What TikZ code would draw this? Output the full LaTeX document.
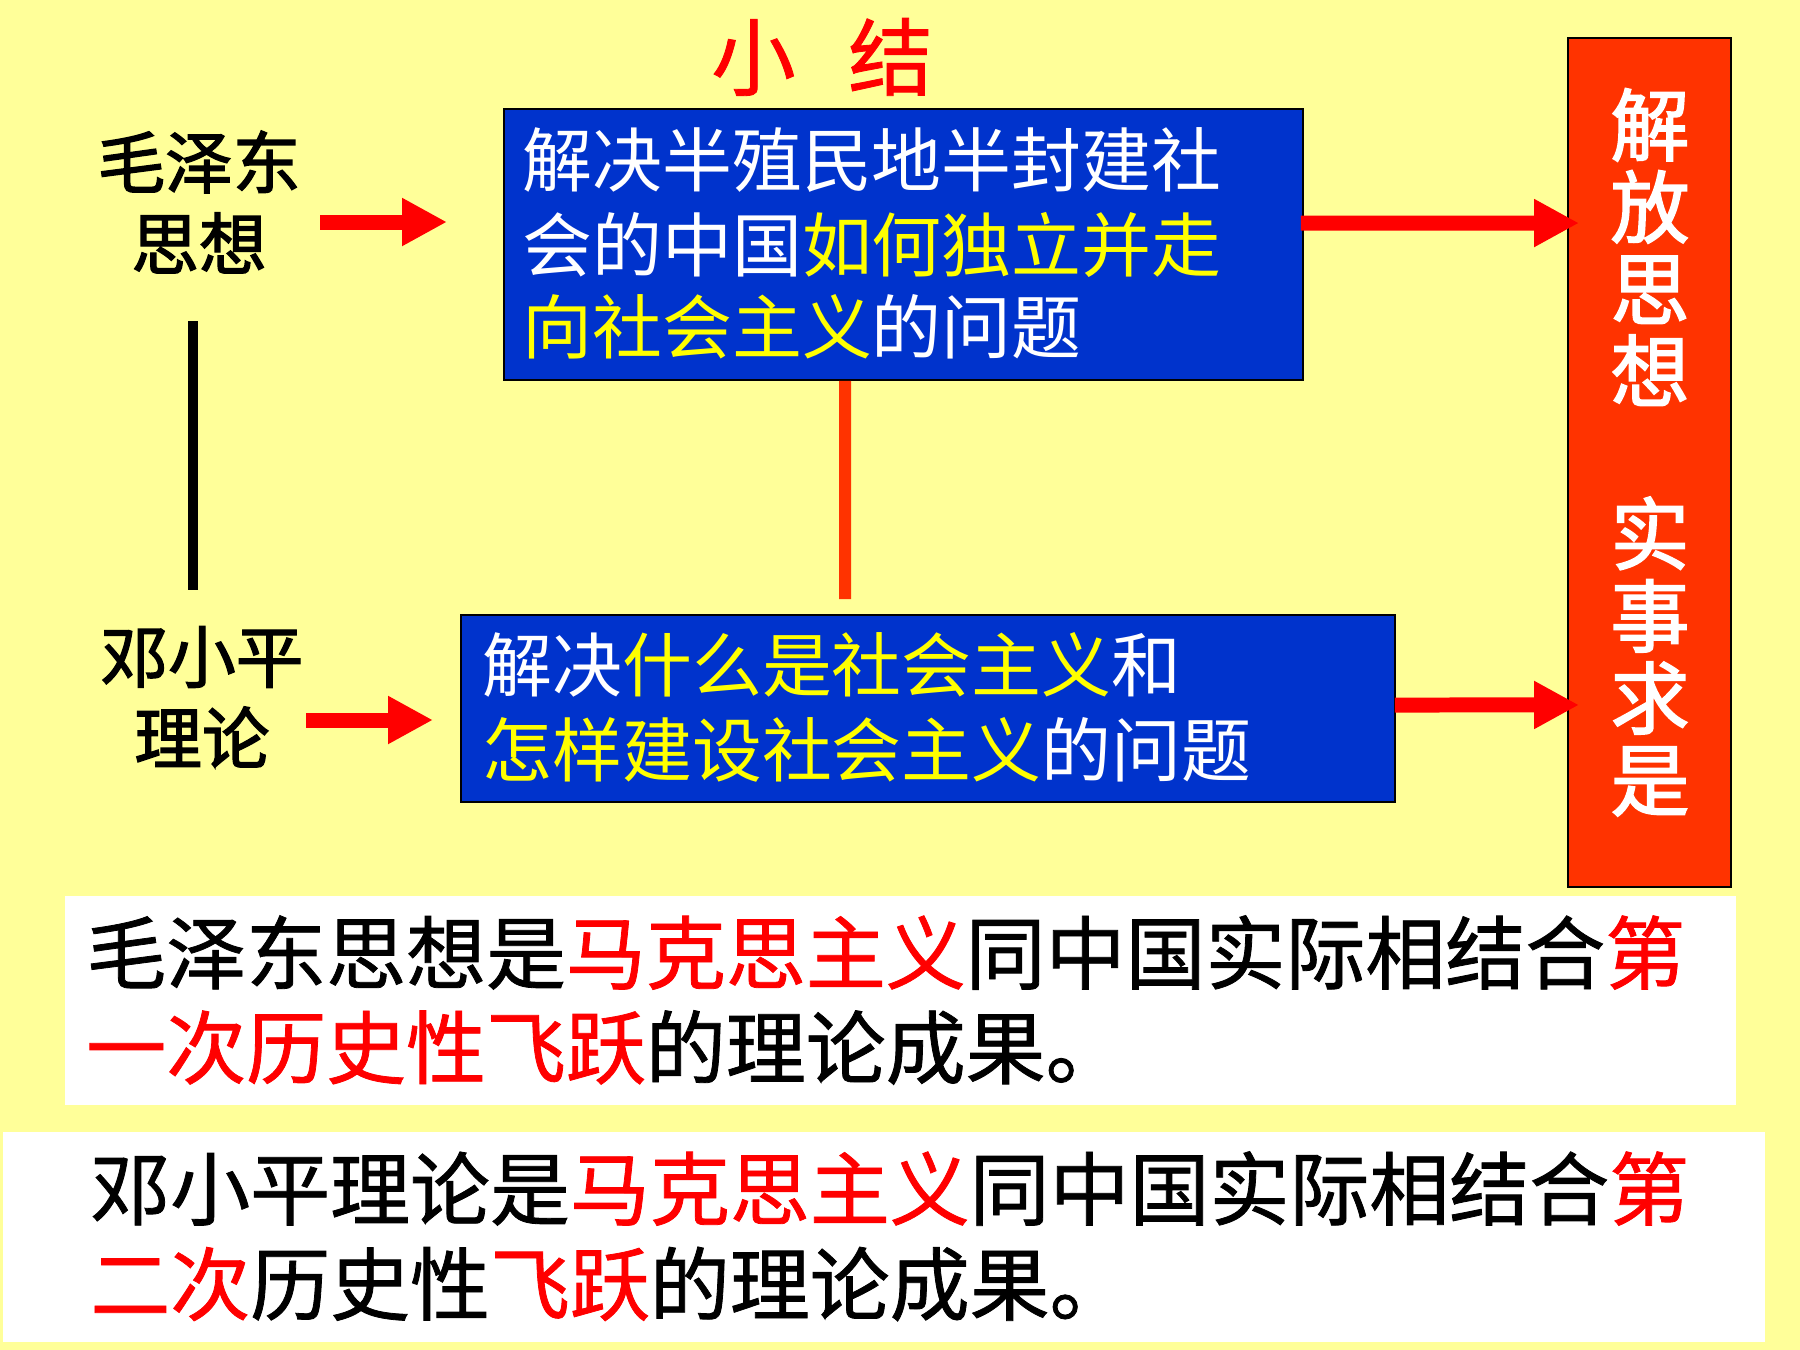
\documentclass[tikz,border=0pt]{standalone}
\usepackage{fontspec}
\usetikzlibrary{arrows.meta}
\newfontfamily\cjk{Noto Sans CJK SC}
\newfontfamily\cjkfb{Noto Sans CJK SC}[FakeBold=2]
\newfontfamily\cjkfm{Noto Sans CJK SC}[FakeBold=1]
\definecolor{bgyellow}{HTML}{FFFF99}
\definecolor{boxblue}{HTML}{0033CC}
\definecolor{boxred}{HTML}{FF3300}
\definecolor{txtyellow}{HTML}{FFFF00}
\definecolor{txtred}{HTML}{FF0000}
\begin{document}
\begin{tikzpicture}[x=0.02cm,y=-0.02cm,
  fatarrow/.style={draw=txtred, line width=0.3cm, -{Triangle[width=0.9cm,length=0.9cm]}},
  bluebox/.style={draw=black, line width=0.04cm, fill=boxblue, inner sep=0pt},
  redbox/.style={draw=black, line width=0.04cm, fill=boxred, inner sep=0pt},
  whitebox/.style={fill=white, draw=none, inner sep=0pt},
  boxtext/.style={anchor=west, inner sep=0pt, text=white, font=\cjk\fontsize{39.8}{46}\selectfont},
  bigtext/.style={anchor=west, inner sep=0pt, text=black, font=\cjkfm\fontsize{45.5}{52}\selectfont},
  sidetext/.style={align=center, inner sep=0pt, text=black, font=\cjkfb\fontsize{38.5}{46.3}\selectfont},
  vtext/.style={align=center, inner sep=0pt, text=white, font=\cjkfb\fontsize{45}{46.7}\selectfont},
  titletext/.style={inner sep=0pt, text=txtred, font=\cjkfm\fontsize{48}{52}\selectfont}
]
\fill[bgyellow] (0,0) rectangle (1800,1350);
\useasboundingbox (0,0) rectangle (1800,1350);

% title
\node[titletext] (title) at (822,57) {小\hspace{30pt}结};

% boxes
\node[bluebox, minimum width=15.98cm, minimum height=5.42cm] (box1) at (903.5,244.5) {};
\node[bluebox, minimum width=18.68cm, minimum height=3.74cm] (box2) at (928,708.5) {};
\node[redbox, minimum width=3.26cm, minimum height=16.98cm] (red) at (1649.5,462.5) {};
\node[whitebox, minimum width=33.42cm, minimum height=4.18cm] (w1) at (900.5,1000.5) {};
\node[whitebox, minimum width=35.24cm, minimum height=4.2cm] (w2) at (884,1237) {};

% box1 text
\node[boxtext] (b1a) at (522,160) {解决半殖民地半封建社};
\node[boxtext] (b1b) at (522,245) {会的中国\textcolor{txtyellow}{如何独立并走}};
\node[boxtext] (b1c) at (522,327) {\textcolor{txtyellow}{向社会主义}的问题};

% box2 text
\node[boxtext] (b2a) at (482,665) {解决\textcolor{txtyellow}{什么是社会主义}和};
\node[boxtext] (b2b) at (482,750) {\textcolor{txtyellow}{怎样建设社会主义}的问题};

% red box text
\node[vtext] (v1) at (1650,247) {解\\放\\思\\想};
\node[vtext] (v2) at (1650,656.5) {实\\事\\求\\是};

% side labels
\node[sidetext] (mao) at (199,202) {毛泽东\\思想};
\node[sidetext] (deng) at (202,697) {邓小平\\理论};

% bottom texts
\node[bigtext] (t1) at (86,952.5) {毛泽东思想是\textcolor{txtred}{马克思主义}同中国实际相结合\textcolor{txtred}{第}};
\node[bigtext] (t2) at (86,1047.5) {\textcolor{txtred}{一次历史性飞跃}的理论成果。};
\node[bigtext] (t3) at (90,1188.5) {邓小平理论是\textcolor{txtred}{马克思主义}同中国实际相结合\textcolor{txtred}{第}};
\node[bigtext] (t4) at (90,1284) {\textcolor{txtred}{二次}历史性\textcolor{txtred}{飞跃}的理论成果。};

% connectors
\coordinate (vtop) at (193,321);
\coordinate (vbot) at (193,590);
\draw[line width=0.2cm, black] (vtop) -- (vbot);

\draw[line width=0.24cm, boxred, shorten >=0.3cm] ([xshift=-1.17cm]box1.south) -- ([xshift=-1.66cm]box2.north);

\coordinate (a1s) at (320,222);
\coordinate (a1e) at (447,222);
\draw[fatarrow] (a1s) -- (a1e);
\coordinate (a2s) at (306,720);
\coordinate (a2e) at (433,720);
\draw[fatarrow] (a2s) -- (a2e);

\draw[fatarrow] ([yshift=0.43cm,xshift=-0.06cm]box1.east) -- ([yshift=4.79cm,xshift=0.24cm]red.west);
\draw[fatarrow] ([yshift=0.07cm,xshift=-0.02cm]box2.east) -- ([yshift=-4.85cm,xshift=0.24cm]red.west);
\end{tikzpicture}
\end{document}
